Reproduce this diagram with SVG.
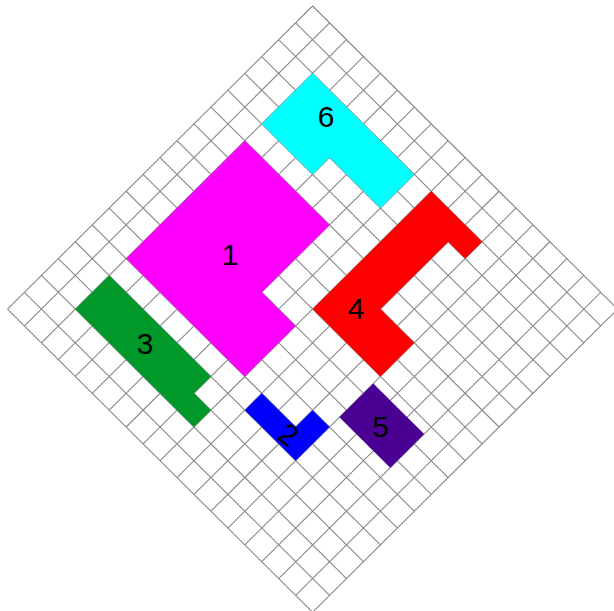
<svg xmlns="http://www.w3.org/2000/svg" width="614" height="611" viewBox="0 0 614 611">
<style>
.grid{fill:none;stroke:#888;stroke-width:1.1;vector-effect:non-scaling-stroke}
.lbl{font-family:"Liberation Sans",Arial,sans-serif;font-size:30px;fill:#000;text-anchor:middle}
</style>
<rect width="614" height="611" fill="#fff"/>
<g id="grid" transform="matrix(16.95 16.84 -16.95 16.84 312.6 6)">
<path class="grid" d="M0 0V18M1 0V18M2 0V18M3 0V18M4 0V18M5 0V18M6 0V18M7 0V18M8 0V18M9 0V18M10 0V18M11 0V18M12 0V18M13 0V18M14 0V18M15 0V18M16 0V18M17 0V18M18 0V18M0 0H18M0 1H18M0 2H18M0 3H18M0 4H18M0 5H18M0 6H18M0 7H18M0 8H18M0 9H18M0 10H18M0 11H18M0 12H18M0 13H18M0 14H18M0 15H18M0 16H18M0 17H18M0 18H18"/>
</g>
<g id="connectors"></g>
<g id="piece1">
<polygon transform="matrix(16.95 16.84 -16.95 16.84 312.6 6)" fill="#ff00ff" points="2,6 7,6 7,10 9,10 9,13 2,13"/>
<text class="lbl" x="230" y="265">1</text>
</g>
<g id="piece6">
<polygon transform="matrix(16.95 16.84 -16.95 16.84 312.6 6)" fill="#00ffff" points="2,2 8,2 8,4 5,4 5,5 2,5"/>
<text class="lbl" x="326" y="127">6</text>
</g>
<g id="piece4">
<polygon transform="matrix(16.95 16.84 -16.95 16.84 312.6 6)" fill="#ff0000" points="9,2 12,2 12,3 11,3 11,7 13,7 13,9 9,9"/>
<text class="lbl" x="356" y="319">4</text>
</g>
<g id="piece3">
<polygon transform="matrix(16.95 16.84 -16.95 16.84 312.6 6)" fill="#009929" points="2,14 8,14 8,15 9,15 9,16 2,16"/>
<text class="lbl" x="145" y="354">3</text>
</g>
<g id="piece2">
<polygon transform="matrix(16.95 16.84 -16.95 16.84 312.6 6)" fill="#0000ff" points="10,13 12,13 12,12 13,12 13,14 10,14"/>
<text class="lbl" x="289" y="445" transform="rotate(35 289 434)">2</text>
</g>
<g id="piece5">
<polygon transform="matrix(16.95 16.84 -16.95 16.84 312.6 6)" fill="#4b0094" points="13,9.42 16,9.42 16,11.42 13,11.42"/>
<text class="lbl" x="380.5" y="437">5</text>
</g>
</svg>
